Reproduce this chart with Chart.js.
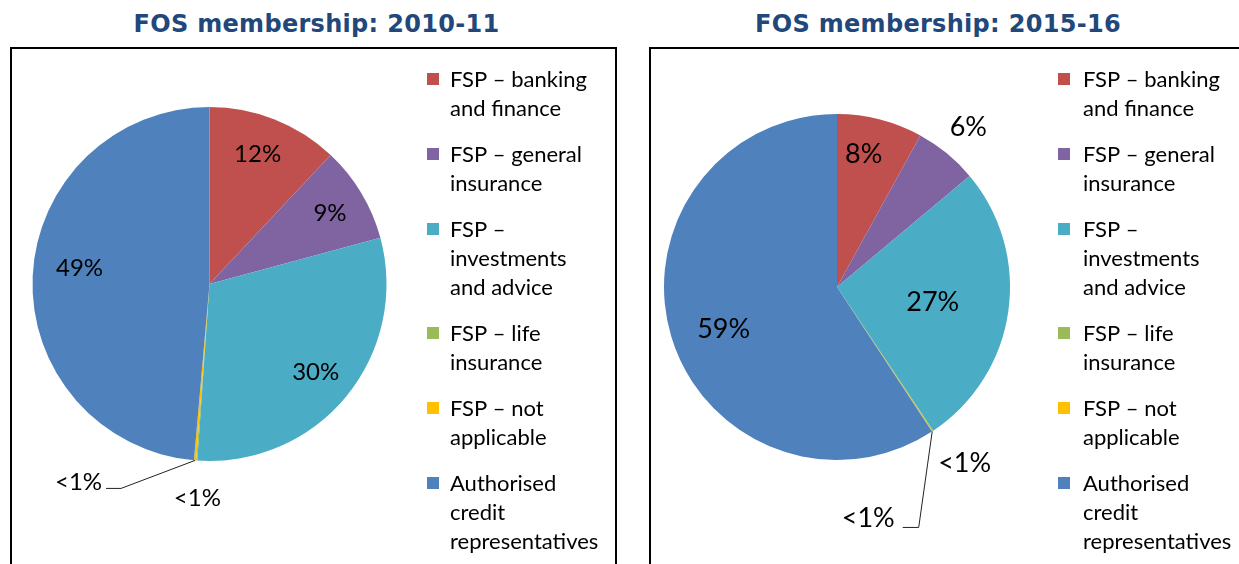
<!DOCTYPE html>
<html><head><meta charset="utf-8">
<script src="https://cdn.jsdelivr.net/npm/chart.js@4/dist/chart.umd.min.js"></script>
<style>
html,body{margin:0;padding:0;background:#fff;width:1239px;height:564px;overflow:hidden;position:relative;}
.title{position:absolute;top:12px;font:bold 24px "DejaVu Sans";letter-spacing:0.3px;line-height:24px;color:#21477b;text-align:center;white-space:nowrap;}
.box{position:absolute;top:47px;border:2px solid #000;height:600px;box-sizing:border-box;}
canvas{position:absolute;}
</style></head><body>
<div class="title" style="left:0;width:633px">FOS membership: 2010-11</div>
<div class="title" style="left:638px;width:600px">FOS membership: 2015-16</div>
<div class="box" style="left:10px;width:607px"></div>
<div class="box" style="left:649px;width:640px"></div>
<canvas id="c1" width="603" height="515" style="left:12px;top:49px"></canvas>
<canvas id="c2" width="588" height="515" style="left:651px;top:49px"></canvas>
<script>
// ---- data ----
const categories = [
  ['FSP – banking', 'and finance'],
  ['FSP – general', 'insurance'],
  ['FSP –', 'investments', 'and advice'],
  ['FSP – life', 'insurance'],
  ['FSP – not', 'applicable'],
  ['Authorised', 'credit', 'representatives']
];
const values2010 = [12.0, 8.8, 30.3, 0.1, 0.2, 48.6];
const values2016 = [8.0, 5.9, 26.7, 0.1, 0.05, 59.25];
const colors = ['#c0504d', '#8064a2', '#4bacc6', '#9bbb59', '#ffc000', '#4f81bd'];

// ---- plugin drawing data labels and multi-line legend ----
const pieDecor = {
  id: 'pieDecor',
  afterDraw(chart, args, opts) {
    const ctx = chart.ctx;
    const meta = chart.getDatasetMeta(0);
    const ds = chart.data.datasets[0];
    ctx.save();
    ctx.font = opts.labelFont;
    meta.data.forEach((arc, i) => {
      const p = opts.labels[i];
      const pr = arc.getProps(['x', 'y', 'startAngle', 'endAngle', 'outerRadius'], true);
      const v = ds.data[i];
      const txt = v < 1 ? '<1%' : Math.round(v) + '%';
      const mid = (pr.startAngle + pr.endAngle) / 2;
      ctx.fillStyle = '#000';
      if (p.leader) {
        const sx = pr.x + Math.cos(mid) * pr.outerRadius;
        const sy = pr.y + Math.sin(mid) * pr.outerRadius;
        const ex = sx + p.leader.dx, ey = sy + p.leader.dy;
        ctx.strokeStyle = '#222';
        ctx.lineWidth = 1;
        ctx.beginPath();
        ctx.moveTo(sx, sy); ctx.lineTo(ex, ey); ctx.lineTo(ex - p.leader.h, ey);
        ctx.stroke();
        ctx.textAlign = 'right'; ctx.textBaseline = 'alphabetic';
        ctx.fillText(txt, ex - p.leader.h - p.leader.gap, ey + p.leader.by);
      } else {
        const a = mid + p.da * Math.PI / 180;
        ctx.textAlign = 'center'; ctx.textBaseline = 'middle';
        ctx.fillText(txt, pr.x + Math.cos(a) * pr.outerRadius * p.r, pr.y + Math.sin(a) * pr.outerRadius * p.r);
      }
    });
    const L = opts.legend;
    ctx.font = L.font; ctx.textAlign = 'left'; ctx.textBaseline = 'middle';
    let yy = L.y;
    chart.data.labels.forEach((lines, i) => {
      ctx.fillStyle = ds.backgroundColor[i];
      ctx.fillRect(L.x, yy - L.box / 2 - 1, L.box, L.box);
      ctx.fillStyle = '#000';
      lines.forEach((ln, j) => ctx.fillText(ln, L.textX, yy + j * L.lineH));
      yy += lines.length * L.lineH + L.gap;
    });
    ctx.restore();
  }
};

function makePie(id, values, padding, labelFont, labels, legendX, legendTextX) {
  return new Chart(document.getElementById(id), {
    type: 'pie',
    data: {
      labels: categories,
      datasets: [{ data: values, backgroundColor: colors, borderWidth: 0 }]
    },
    options: {
      responsive: false,
      animation: false,
      events: [],
      layout: { padding: padding },
      plugins: {
        legend: { display: false },
        tooltip: { enabled: false },
        pieDecor: {
          labelFont: labelFont,
          labels: labels,
          legend: { x: legendX, textX: legendTextX, y: 31, box: 12, lineH: 29, gap: 17, font: '22px Lato' }
        }
      }
    },
    plugins: [pieDecor]
  });
}

makePie('c1', values2010,
  { left: 20.5, top: 58, right: 228.5, bottom: 103 },
  '24px Lato',
  [
    { r: 0.78, da: -1.2 },
    { r: 0.79, da: 0.5 },
    { r: 0.78, da: 0.3 },
    { r: 1.21, da: -0.9 },
    { leader: { dx: -74, dy: 28, h: 15, gap: 4, by: 2 } },
    { r: 0.74, da: 4.5 }
  ],
  415, 438);

makePie('c2', values2016,
  { left: 13, top: 65, right: 229, bottom: 104 },
  '27px Lato',
  [
    { r: 0.78, da: -3 },
    { r: 1.195, da: 0 },
    { r: 0.56, da: 0.8 },
    { r: 1.26, da: -2.2 },
    { leader: { dx: -13.5, dy: 96, h: 16, gap: 8, by: 0 } },
    { r: 0.70, da: -4 }
  ],
  407, 432);
</script>
</body></html>
